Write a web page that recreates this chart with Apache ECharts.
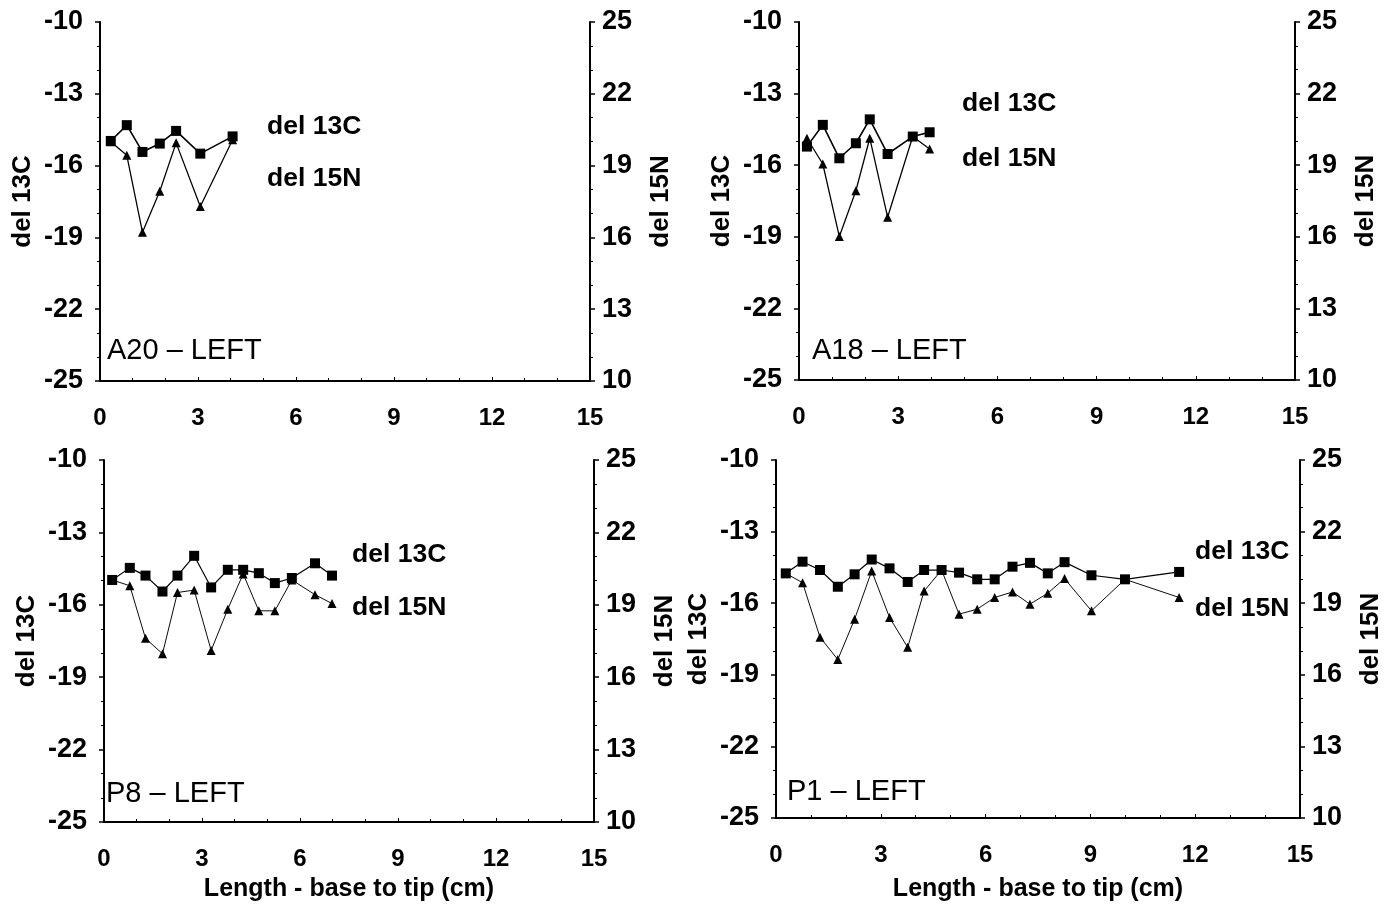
<!DOCTYPE html>
<html>
<head>
<meta charset="utf-8">
<script src="https://cdn.jsdelivr.net/npm/echarts@6/dist/echarts.min.js"></script>
<style>
html,body{margin:0;padding:0;background:#fff;}
#chart{width:1391px;height:906px;}
</style>
</head>
<body>
<div id="chart"></div>
<script>
// ---- data ----
const panelNames = ['A20 – LEFT', 'A18 – LEFT', 'P8 – LEFT', 'P1 – LEFT'];
const xTicks = [0, 3, 6, 9, 12, 15];
const leftTicks = [-25, -22, -19, -16, -13, -10];
const rightTicks = [10, 13, 16, 19, 22, 25];

const a20X = [0.33, 0.82, 1.30, 1.83, 2.33, 3.07, 4.06];
const a20C = [-14.97, -14.31, -15.43, -15.08, -14.55, -15.50, -14.78];
const a20N = [20.00, 19.43, 16.22, 17.93, 19.95, 17.29, 20.08];

const a18X = [0.24, 0.72, 1.22, 1.72, 2.14, 2.68, 3.44, 3.95];
const a18C = [-15.22, -14.31, -15.71, -15.08, -14.08, -15.53, -14.80, -14.62];
const a18N = [20.13, 19.05, 16.01, 17.93, 20.13, 16.82, 20.20, 19.68];

const p8X = [0.25, 0.79, 1.27, 1.79, 2.25, 2.76, 3.28, 3.79, 4.26, 4.74, 5.23, 5.75, 6.46, 6.98];
const p8C = [-14.97, -14.47, -14.79, -15.45, -14.79, -13.97, -15.28, -14.55, -14.55, -14.69, -15.10, -14.89, -14.28, -14.79];
const p8N = [20.03, 19.79, 17.61, 16.97, 19.51, 19.61, 17.11, 18.82, 20.28, 18.75, 18.75, 20.03, 19.42, 19.05];

const p1X = [0.28, 0.76, 1.26, 1.77, 2.25, 2.74, 3.25, 3.77, 4.24, 4.74, 5.24, 5.76, 6.26, 6.77, 7.27, 7.78, 8.26, 9.03, 9.99, 11.54];
const p1C = [-14.75, -14.26, -14.61, -15.31, -14.79, -14.17, -14.54, -15.11, -14.61, -14.61, -14.72, -15.00, -15.00, -14.47, -14.31, -14.75, -14.28, -14.83, -15.00, -14.69];
const p1N = [20.25, 19.86, 17.57, 16.64, 18.33, 20.35, 18.40, 17.15, 19.51, 20.39, 18.54, 18.75, 19.24, 19.47, 18.96, 19.42, 20.03, 18.68, 20.00, 19.24];

const panels = [
  {x: a20X, c: a20C, n: a20N},
  {x: a18X, c: a18C, n: a18N},
  {x: p8X, c: p8C, n: p8N},
  {x: p1X, c: p1C, n: p1N}
];
const cName = 'del 13C';
const nName = 'del 15N';
const xName = 'Length - base to tip (cm)';

// ---- layout ----
const FONT = '"Liberation Sans", Arial, sans-serif';
const grids = [
  {left: 100, top: 22, width: 490, height: 359},
  {left: 799, top: 22, width: 496, height: 358},
  {left: 104, top: 460, width: 490, height: 362},
  {left: 776, top: 460, width: 524, height: 358}
];
const legendPos = [
  {x: 267, yc: 128, yn: 180},
  {x: 962, yc: 105, yn: 160},
  {x: 352, yc: 556, yn: 609},
  {x: 1195, yc: 553, yn: 610}
];
const labelPos = [
  {x: 107, y: 352}, {x: 812, y: 352}, {x: 106, y: 795}, {x: 787, y: 793}
];
const xNameGap = [58, 58, 55, 59];

const axisLine = {show: true, lineStyle: {color: '#000', width: 2}};
const xAxes = [], yAxes = [], series = [], graphic = [];

panels.forEach((p, i) => {
  const bottom = i >= 2;
  xAxes.push({
    type: 'value', gridIndex: i, min: xTicks[0], max: xTicks[xTicks.length - 1], interval: 3,
    axisLine: axisLine,
    axisTick: {show: true, inside: true, length: 4, lineStyle: {color: '#000', width: 1}},
    minorTick: {show: true, splitNumber: 3, length: 3, lineStyle: {color: '#000', width: 1}},
    splitLine: {show: false},
    axisLabel: {color: '#000', fontFamily: FONT, fontSize: 24, fontWeight: 'bold', margin: 25},
    name: bottom ? xName : '', nameLocation: 'middle', nameGap: xNameGap[i],
    nameTextStyle: {color: '#000', fontFamily: FONT, fontSize: 25, fontWeight: 'bold'}
  });
  yAxes.push({
    type: 'value', gridIndex: i, position: 'left', min: leftTicks[0], max: leftTicks[leftTicks.length - 1], interval: 3,
    axisLine: axisLine,
    axisTick: {show: true, length: 5, lineStyle: {color: '#000', width: 1.5}},
    minorTick: {show: true, splitNumber: 3, length: 3, lineStyle: {color: '#000', width: 1}},
    splitLine: {show: false},
    axisLabel: {color: '#000', fontFamily: FONT, fontSize: 27, fontWeight: 'bold', margin: 17},
    name: cName, nameLocation: 'middle', nameGap: 64, nameRotate: 90,
    nameTextStyle: {color: '#000', fontFamily: FONT, fontSize: 26, fontWeight: 'bold'}
  });
  yAxes.push({
    type: 'value', gridIndex: i, position: 'right', min: rightTicks[0], max: rightTicks[rightTicks.length - 1], interval: 3,
    axisLine: axisLine,
    axisTick: {show: true, length: 5, lineStyle: {color: '#000', width: 1.5}},
    minorTick: {show: true, splitNumber: 3, length: 3, lineStyle: {color: '#000', width: 1}},
    splitLine: {show: false},
    axisLabel: {color: '#000', fontFamily: FONT, fontSize: 27, fontWeight: 'bold', margin: 12},
    name: nName, nameLocation: 'middle', nameGap: 58, nameRotate: 90,
    nameTextStyle: {color: '#000', fontFamily: FONT, fontSize: 26, fontWeight: 'bold'}
  });
  const lw = bottom ? 1.2 : 1.6;
  series.push({
    name: cName, type: 'line', xAxisIndex: i, yAxisIndex: i * 2,
    data: p.x.map((x, k) => [x, p.c[k]]),
    symbol: 'rect', symbolSize: 10,
    lineStyle: {color: '#000', width: lw}, itemStyle: {color: '#000'},
    z: 3, animation: false
  });
  series.push({
    name: nName, type: 'line', xAxisIndex: i, yAxisIndex: i * 2 + 1,
    data: p.x.map((x, k) => [x, p.n[k]]),
    symbol: 'triangle', symbolSize: 9,
    lineStyle: {color: '#000', width: lw * 0.8}, itemStyle: {color: '#000'},
    z: 2, animation: false
  });
  const lp = legendPos[i];
  graphic.push({type: 'text', left: lp.x, top: lp.yc - 15, style: {text: cName, fill: '#000', font: 'bold 26.5px ' + FONT}});
  graphic.push({type: 'text', left: lp.x, top: lp.yn - 15, style: {text: nName, fill: '#000', font: 'bold 26.5px ' + FONT}});
  const pp = labelPos[i];
  graphic.push({type: 'text', left: pp.x, top: pp.y - 16, style: {text: panelNames[i], fill: '#000', font: '29px ' + FONT}});
});

const chart = echarts.init(document.getElementById('chart'), null, {renderer: 'canvas'});
chart.setOption({
  backgroundColor: '#fff',
  animation: false,
  grid: grids,
  xAxis: xAxes,
  yAxis: yAxes,
  series: series,
  graphic: graphic
});
</script>
</body>
</html>
